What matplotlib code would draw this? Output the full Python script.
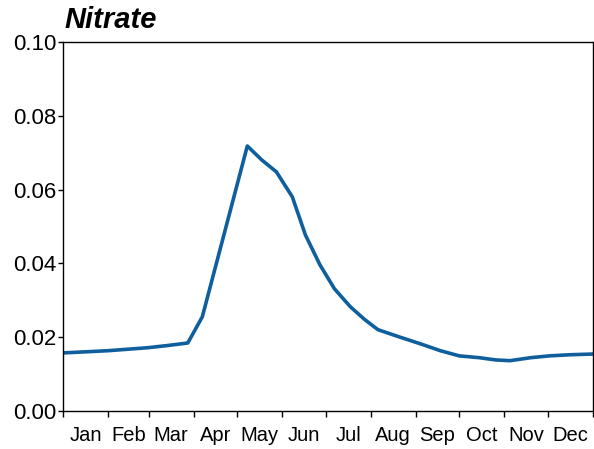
import matplotlib
matplotlib.use("Agg")
import numpy as np
from matplotlib import pyplot as plt
from matplotlib.ticker import FixedLocator, NullFormatter, FixedFormatter

# day of year and nitrate concentration
days = [0, 31, 58, 72, 86, 96, 127, 137, 147, 158, 167, 177, 187, 198, 208,
        217, 232, 246, 260, 273, 287, 298, 308, 322, 335, 349, 365]
nitrate = [0.0157, 0.0163, 0.0171, 0.0177, 0.0184, 0.0255, 0.0718, 0.0680,
           0.0648, 0.0580, 0.0477, 0.0396, 0.0331, 0.0282, 0.0247, 0.0220,
           0.0200, 0.0182, 0.0163, 0.0149, 0.0144, 0.0138, 0.0136, 0.0144,
           0.0149, 0.0152, 0.0154]

months = ["Jan", "Feb", "Mar", "Apr", "May", "Jun",
          "Jul", "Aug", "Sep", "Oct", "Nov", "Dec"]
month_days = [31, 28, 31, 30, 31, 30, 31, 31, 30, 31, 30, 31]

plt.rcParams["font.family"] = ["Liberation Sans", "DejaVu Sans"]

fig = plt.figure(figsize=(5.94, 4.49), dpi=100)
ax = fig.add_axes([0.106, 0.085, 0.892, 0.8215])

ax.plot(days, nitrate, color="#0f5f9e", linewidth=2.6, solid_joinstyle="round")

edges = np.concatenate([[0], np.cumsum(month_days)])
mids = (edges[:-1] + edges[1:]) / 2

ax.set_xlim(0, 365)
ax.set_ylim(0, 0.10)
ax.xaxis.set_major_locator(FixedLocator(edges))
ax.xaxis.set_major_formatter(NullFormatter())
ax.xaxis.set_minor_locator(FixedLocator(mids))
ax.xaxis.set_minor_formatter(FixedFormatter(months))
ax.tick_params(axis="x", which="major", length=4.5, width=1, direction="out")
ax.tick_params(axis="x", which="minor", length=0, pad=11, labelsize=14.5)

ax.set_yticks([0.00, 0.02, 0.04, 0.06, 0.08, 0.10])
ax.set_yticklabels(["0.00", "0.02", "0.04", "0.06", "0.08", "0.10"])
ax.tick_params(axis="y", length=3.8, width=1, labelsize=16, pad=1)

for s in ax.spines.values():
    s.set_linewidth(1.0)

fig.text(0.108, 0.937, "Nitrate", fontsize=21, fontweight="bold",
         fontstyle="italic", ha="left", va="baseline")

plt.savefig("out.png", dpi=100)
plt.close()
